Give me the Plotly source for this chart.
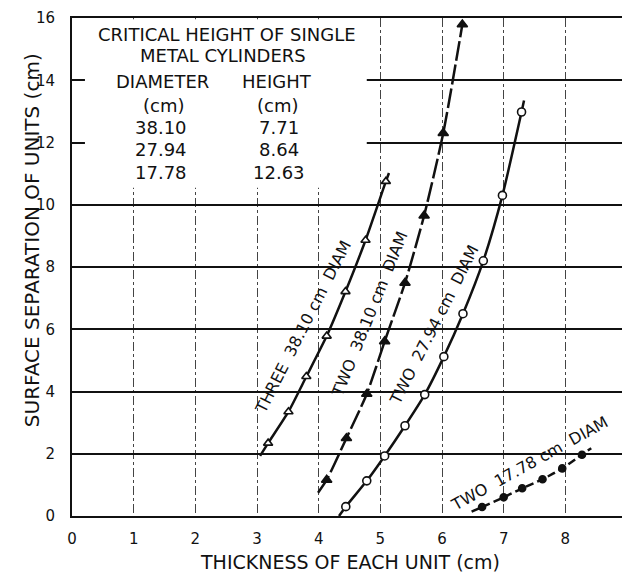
import plotly.graph_objects as go

# ---- data ----
three_3810_x = [3.18, 3.51, 3.80, 4.13, 4.435, 4.76, 5.09]
three_3810_y = [2.34, 3.35, 4.48, 5.78, 7.21, 8.86, 10.75]
three_3810_start = (3.05, 1.93)
three_3810_end = (5.14, 11.02)

two_3810_x = [4.13, 4.45, 4.78, 5.07, 5.40, 5.71, 6.02, 6.33]
two_3810_y = [1.16, 2.50, 3.92, 5.61, 7.49, 9.65, 12.30, 15.79]
two_3810_start = (3.99, 0.75)

two_2794_x = [4.44, 4.78, 5.07, 5.40, 5.72, 6.03, 6.34, 6.67, 6.98, 7.29]
two_2794_y = [0.30, 1.13, 1.93, 2.90, 3.90, 5.12, 6.50, 8.20, 10.30, 12.98]
two_2794_start = (4.33, 0.0)
two_2794_end = (7.33, 13.35)

two_1778_x = [6.65, 7.00, 7.30, 7.63, 7.95, 8.27]
two_1778_y = [0.29, 0.60, 0.89, 1.18, 1.53, 1.97]
two_1778_start = (6.48, 0.14)
two_1778_end = (8.42, 2.18)

table_diameters = ["38.10", "27.94", "17.78"]
table_heights = ["7.71", "8.64", "12.63"]

x_ticks = list(range(0, 10))
y_ticks = list(range(0, 17, 2))

FONT = "DejaVu Sans"
INK = "#111111"

fig = go.Figure()


def curve(xs, ys, start=None, end=None, dash="solid", symbol="circle",
          filled=False, msize=8, lw=2.5):
    lx = ([start[0]] if start else []) + xs + ([end[0]] if end else [])
    ly = ([start[1]] if start else []) + ys + ([end[1]] if end else [])
    fig.add_trace(go.Scatter(x=lx, y=ly, mode="lines",
                             line=dict(color=INK, width=lw, dash=dash, shape="spline", smoothing=0.6),
                             hoverinfo="skip", showlegend=False))
    fig.add_trace(go.Scatter(x=xs, y=ys, mode="markers",
                             marker=dict(symbol=symbol, size=msize,
                                         color=INK if filled else "white",
                                         line=dict(color=INK, width=1.6)),
                             showlegend=False))


curve(three_3810_x, three_3810_y, three_3810_start, three_3810_end,
      dash="solid", symbol="triangle-up", filled=False, msize=8)
curve(two_3810_x, two_3810_y, two_3810_start, None,
      dash="20px,4px", symbol="triangle-up", filled=True, msize=9)
curve(two_2794_x, two_2794_y, two_2794_start, two_2794_end,
      dash="solid", symbol="circle", filled=False, msize=8)
curve(two_1778_x, two_1778_y, two_1778_start, two_1778_end,
      dash="8px,4px", symbol="circle", filled=True, msize=7)

# white box behind the table (gridlines are interrupted there)
fig.add_shape(type="rect", x0=0.21, x1=4.78, y0=10.55, y1=15.96,
              xref="x", yref="y", fillcolor="white", line=dict(width=0),
              layer="above")

ann = []
tf = dict(family=FONT, size=18, color=INK)
ann.append(dict(x=2.51, y=15.47, text="CRITICAL HEIGHT OF SINGLE", font=tf))
ann.append(dict(x=2.45, y=14.79, text="METAL CYLINDERS", font=tf))
ann.append(dict(x=1.47, y=13.96, text="DIAMETER", font=tf))
ann.append(dict(x=3.32, y=13.96, text="HEIGHT", font=tf))
ann.append(dict(x=1.49, y=13.18, text="(cm)", font=tf))
ann.append(dict(x=3.34, y=13.18, text="(cm)", font=tf))
rows_y = [12.48, 11.77, 11.03]
for d, h, yy in zip(table_diameters, table_heights, rows_y):
    ann.append(dict(x=1.45, y=yy, text=d, font=tf))
    ann.append(dict(x=3.36, y=yy, text=h, font=tf))

lf = dict(family=FONT, size=16, color=INK)
ann.append(dict(x=3.74, y=6.07, text="THREE  38.10 cm  DIAM", textangle=-63, font=lf))
ann.append(dict(x=4.82, y=6.49, text="TWO  38.10 cm  DIAM", textangle=-68, font=lf))
ann.append(dict(x=5.88, y=6.14, text="TWO  27.94 cm  DIAM", textangle=-63, font=lf))
ann.append(dict(x=7.42, y=1.70, text="TWO  17.78 cm  DIAM", textangle=-29, font=lf))

for a in ann:
    a.update(xref="x", yref="y", showarrow=False, xanchor="center", yanchor="middle")

ann.append(dict(x=0.5, y=-0.092, xref="paper", yref="paper", showarrow=False,
                xanchor="center", yanchor="middle",
                text="THICKNESS OF EACH UNIT (cm)",
                font=dict(family=FONT, size=19, color=INK)))
ann.append(dict(x=-0.072, y=0.554, xref="paper", yref="paper", showarrow=False,
                xanchor="center", yanchor="middle",
                text="SURFACE SEPARATION OF UNITS (cm)", textangle=-90,
                font=dict(family=FONT, size=20, color=INK)))

# page body has an 8px margin, so the figure is drawn 8px in from the window edge
fig.update_layout(
    width=622, height=565,
    margin=dict(l=64, r=3, t=10, b=57, autoexpand=False),
    paper_bgcolor="white", plot_bgcolor="white",
    annotations=ann,
    showlegend=False,
    font=dict(family=FONT, color=INK),
)
fig.update_xaxes(range=[0, 9], tickvals=x_ticks, ticktext=[str(v) for v in x_ticks],
                 showgrid=True, gridcolor="#444444", gridwidth=1, griddash="dashdot",
                 showline=True, linecolor=INK, linewidth=2, mirror=True,
                 zeroline=False, ticks="", ticklabelstandoff=8, automargin=False,
                 tickfont=dict(family=FONT, size=15, color=INK))
fig.update_yaxes(range=[0, 16], tickvals=y_ticks, ticktext=[str(v) for v in y_ticks],
                 showgrid=True, gridcolor=INK, gridwidth=1.6,
                 showline=True, linecolor=INK, linewidth=2, mirror=True,
                 zeroline=False, ticks="", ticklabelstandoff=12, automargin=False,
                 tickfont=dict(family=FONT, size=15, color=INK))

fig.write_html("out.html")
